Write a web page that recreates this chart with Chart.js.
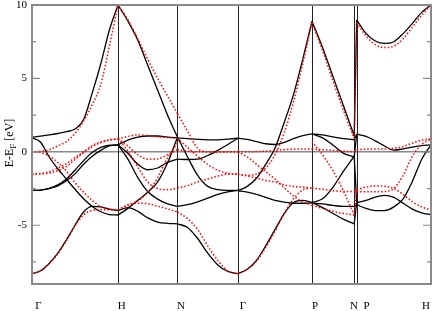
<!DOCTYPE html>
<html><head><meta charset="utf-8">
<script src="https://cdn.jsdelivr.net/npm/chart.js@4/dist/chart.umd.min.js"></script>
<style>html,body{margin:0;padding:0;background:#fff}</style>
</head><body>
<canvas id="c" width="436" height="311"></canvas>
<script>
// k-path (units of 2pi/a) and labels
const symLabels = ['Γ','H','N','Γ','P','N','P','H'];
const symK      = [0, 1.0, 1.692, 2.395, 3.256, 3.747, 3.776, 4.64];
const labelK    = [0.076, 1.043, 1.733, 2.453, 3.291, 3.744, 3.892, 4.581];
const yTicks = [-5, 0, 5, 10];
const yMinor = [-7.5, -2.5, 2.5, 7.5];
// number of sample steps in each segment G-H, H-N, N-G, G-P, P-N, N|P, P-H
const segSteps = [10, 6, 6, 8, 4, 1, 8];

// black (solid) bands, per segment, energies in eV
const blackGH = [
  [1.0,1.07,1.15,1.25,1.37,1.55,2.2,4.0,6.0,8.3,10.0],
  [0.95,0.65,-0.35,-1.15,-1.85,-2.55,-3.2,-3.72,-4.08,-4.27,-4.3],
  [-2.63,-2.6,-2.48,-2.25,-1.85,-1.25,-0.6,-0.05,0.3,0.45,0.48],
  [-2.63,-2.6,-2.5,-2.32,-1.97,-1.5,-0.85,-0.3,0.1,0.4,0.48],
  [-8.3,-8.1,-7.6,-6.9,-6.0,-5.0,-4.1,-3.72,-3.75,-3.9,-4.0]
];
const blackHN = [
  [10,8.9,7.6,5.9,4.2,2.5,1.0],
  [-4.3,-3.85,-3.3,-2.75,-2.05,-0.75,1.0],
  [0.48,-0.1,-0.85,-1.22,-1.1,-0.72,-0.5],
  [0.48,0.8,1.0,1.08,1.08,1.0,0.95],
  [0.48,-0.5,-1.75,-2.7,-3.22,-3.55,-3.72],
  [-4.0,-3.8,-4.05,-4.5,-4.78,-4.87,-4.9]
];
const blackNG = [
  [1.0,-0.35,-1.6,-2.35,-2.58,-2.63,-2.63],
  [0.95,0.9,0.85,0.82,0.82,0.87,0.93],
  [-0.5,-0.52,-0.5,-0.25,0.1,0.5,0.93],
  [-3.72,-3.6,-3.4,-3.15,-2.9,-2.72,-2.63],
  [-4.9,-5.15,-5.9,-6.9,-7.7,-8.15,-8.3]
];
const blackGP = [
  [-2.65,-2.35,-1.8,-0.85,0.25,2.0,3.9,6.3,8.9],
  [0.93,0.85,0.7,0.55,0.5,0.65,0.9,1.1,1.22],
  [-2.65,-2.75,-2.9,-3.1,-3.3,-3.42,-3.5,-3.5,-3.48],
  [-8.3,-8.0,-7.4,-6.4,-5.3,-4.2,-3.45,-3.3,-3.45]
];
const blackPN = [
  [8.9,7.1,5.1,3.1,1.1],
  [1.22,1.15,1.02,0.9,0.82],
  [1.22,0.95,0.45,-0.1,-0.35],
  [-3.45,-3.2,-2.4,-1.3,-0.3],
  [-3.5,-3.55,-3.65,-3.72,-3.72],
  [-3.45,-3.8,-4.2,-4.6,-4.9]
];
const blackNP = [
  [1.1,8.98],[0.82,1.22],[-0.35,1.2],[-0.3,-3.45],[-3.72,-3.6],[-4.9,-3.45]
];
const blackPH = [
  [8.98,8.07,7.55,7.38,7.5,8.05,8.75,9.5,10],
  [1.2,1.05,0.75,0.4,0.12,0.2,0.32,0.42,0.48],
  [-3.45,-3.3,-3.08,-2.97,-3.1,-3.5,-3.9,-4.15,-4.29],
  [-3.6,-3.85,-4.0,-4.0,-3.75,-3.2,-2.0,-0.5,0.48]
];

// red (dotted) bands
const redGH = [
  [0,0.05,0.14,0.4,0.7,1.25,2.1,3.2,4.6,7.2,10],
  [0,-0.05,-0.3,-0.72,-1.32,-2.1,-2.75,-3.3,-3.75,-3.9,-3.95],
  [-1.52,-1.48,-1.35,-1.1,-0.8,-0.4,0.0,0.42,0.68,0.82,0.88],
  [-1.52,-1.5,-1.45,-1.28,-1.0,-0.52,-0.05,0.35,0.63,0.8,0.88],
  [-8.3,-8.1,-7.6,-6.95,-6.05,-5.05,-4.3,-4.0,-3.95,-3.95,-3.95]
];
const redHN = [
  [10,9.0,7.7,6.3,5.0,3.8,2.6],
  [0.88,1.05,1.15,1.1,1.02,0.97,0.93],
  [0.88,0.4,-0.2,-0.5,-0.48,-0.2,0.15],
  [0.88,0.05,-1.05,-2.05,-2.5,-2.58,-2.47],
  [-3.95,-3.65,-3.5,-3.53,-3.7,-3.88,-4.1],
  [-3.95,-3.6,-3.35,-2.75,-1.75,-0.4,0.6]
];
const redNG = [
  [2.6,1.4,0.25,0.0,-0.02,0.0,0.0],
  [0.93,0.3,-0.3,-0.85,-1.25,-1.47,-1.52],
  [0.15,0.05,0.0,0.0,0.0,0.0,0.0],
  [-2.47,-2.3,-2.05,-1.85,-1.65,-1.52,-1.5],
  [-4.1,-4.55,-5.3,-6.4,-7.4,-8.1,-8.3]
];
const redGP = [
  [0,0,0.02,0.05,0.1,0.15,0.18,0.2,0.2],
  [0,-0.35,-0.85,-1.35,-1.85,-2.45,-3.0,-3.4,-3.65],
  [-1.52,-1.65,-1.78,-1.95,-2.05,-2.25,-2.36,-2.4,-2.47],
  [-1.52,-1.6,-1.5,-1.1,-0.2,1.3,3.4,6.0,8.8],
  [-8.3,-8.0,-7.45,-6.5,-5.4,-4.2,-3.2,-2.6,-2.45]
];
const redPN = [
  [8.8,6.9,4.8,2.8,0.9],
  [0.2,0.15,0.1,0.05,0.0],
  [0.7,-0.2,-1.3,-2.7,-4.3],
  [-2.47,-2.55,-2.65,-2.7,-2.7],
  [-3.65,-3.85,-4.05,-4.2,-4.3]
];
const redNP = [
  [0.9,8.8],[0.0,0.14],[-4.3,-2.59],[-2.7,-2.7]
];
const redPH = [
  [8.8,7.9,7.3,7.1,7.2,7.7,8.5,9.3,10],
  [0.14,0.18,0.2,0.2,0.25,0.36,0.6,0.8,0.88],
  [-2.59,-2.4,-2.32,-2.35,-2.5,-2.9,-3.4,-3.75,-3.95],
  [-2.7,-2.72,-2.72,-2.7,-2.5,-1.6,-0.3,0.5,0.88]
];

const segStart = [symK[0], symK[1], symK[2], symK[3], symK[4], symK[5], symK[6]];
const segEnd   = [symK[1], symK[2], symK[3], symK[4], symK[5], symK[6], symK[7]];
const blackSegs = [blackGH, blackHN, blackNG, blackGP, blackPN, blackNP, blackPH];
const redSegs   = [redGH, redHN, redNG, redGP, redPN, redNP, redPH];

function segK(i) {
  const n = segSteps[i], a = segStart[i], b = segEnd[i];
  const out = [];
  for (let j = 0; j <= n; j++) out.push(a + (b - a) * j / n);
  return out;
}

const datasets = [];
redSegs.forEach((seg, i) => {
  const ks = segK(i);
  seg.forEach(curve => datasets.push({
    data: curve.map((e, j) => ({x: ks[j], y: e})),
    borderColor: '#ff0000', borderWidth: 1.5, borderDash: [1.5, 2],
    pointRadius: 0, fill: false, cubicInterpolationMode: 'monotone'
  }));
});
blackSegs.forEach((seg, i) => {
  const ks = segK(i);
  seg.forEach(curve => datasets.push({
    data: curve.map((e, j) => ({x: ks[j], y: e})),
    borderColor: '#000000', borderWidth: 1.3,
    pointRadius: 0, fill: false, cubicInterpolationMode: 'monotone'
  }));
});

const decor = {
  id: 'decor',
  beforeDatasetsDraw(chart) {
    const {ctx, chartArea: a, scales: {x, y}} = chart;
    ctx.save();
    ctx.strokeStyle = '#8a8a8a'; ctx.lineWidth = 1.5;
    const y0 = y.getPixelForValue(0);
    ctx.beginPath(); ctx.moveTo(a.left, y0); ctx.lineTo(a.right, y0); ctx.stroke();
    ctx.strokeStyle = '#222'; ctx.lineWidth = 1;
    symK.forEach(k => {
      const px = Math.round(x.getPixelForValue(k)) + 0.5;
      ctx.beginPath(); ctx.moveTo(px, a.top); ctx.lineTo(px, a.bottom); ctx.stroke();
    });
    ctx.restore();
  },
  afterDatasetsDraw(chart) {
    const {ctx, chartArea: a, scales: {x, y}} = chart;
    ctx.save();
    ctx.strokeStyle = '#8a8a8a'; ctx.lineWidth = 2;
    ctx.strokeRect(a.left, a.top, a.right - a.left, a.bottom - a.top);
    ctx.lineWidth = 1.2;
    yTicks.forEach(v => {
      const py = y.getPixelForValue(v);
      ctx.beginPath(); ctx.moveTo(a.left, py); ctx.lineTo(a.left + 8, py);
      ctx.moveTo(a.right, py); ctx.lineTo(a.right - 8, py); ctx.stroke();
    });
    yMinor.forEach(v => {
      const py = y.getPixelForValue(v);
      ctx.beginPath(); ctx.moveTo(a.left, py); ctx.lineTo(a.left + 4, py);
      ctx.moveTo(a.right, py); ctx.lineTo(a.right - 4, py); ctx.stroke();
    });
    ctx.fillStyle = '#000';
    ctx.font = "11px 'Liberation Serif'";
    ctx.textAlign = 'right'; ctx.textBaseline = 'middle';
    yTicks.forEach(v => ctx.fillText(String(v), a.left - 5, y.getPixelForValue(v)));
    ctx.textAlign = 'center'; ctx.textBaseline = 'middle';
    ctx.font = "11px 'Liberation Serif'";
    symLabels.forEach((s, i) => ctx.fillText(s, x.getPixelForValue(labelK[i]), a.bottom + 22));
    ctx.translate(9, 143);
    ctx.rotate(-Math.PI / 2);
    const p1 = 'E-E', p2 = 'F', p3 = ' [eV]';
    ctx.font = "12px 'Liberation Serif'"; const w1 = ctx.measureText(p1).width, w3 = ctx.measureText(p3).width;
    ctx.font = "9px 'Liberation Serif'"; const w2 = ctx.measureText(p2).width;
    let sx = -(w1 + w2 + w3) / 2;
    ctx.textAlign = 'left'; ctx.textBaseline = 'alphabetic';
    ctx.font = "12px 'Liberation Serif'"; ctx.fillText(p1, sx, 4); sx += w1;
    ctx.font = "9px 'Liberation Serif'"; ctx.fillText(p2, sx, 7); sx += w2;
    ctx.font = "12px 'Liberation Serif'"; ctx.fillText(p3, sx, 4);
    ctx.restore();
  }
};

new Chart(document.getElementById('c'), {
  type: 'line',
  data: { datasets },
  options: {
    responsive: false, animation: false, devicePixelRatio: 1,
    layout: { padding: { left: 32, right: 5, top: 5, bottom: 27 } },
    plugins: { legend: { display: false }, tooltip: { enabled: false } },
    scales: {
      x: { type: 'linear', min: 0, max: symK[symK.length - 1], display: false },
      y: { min: -9, max: 10, display: false }
    }
  },
  plugins: [decor]
});
</script>
</body></html>
